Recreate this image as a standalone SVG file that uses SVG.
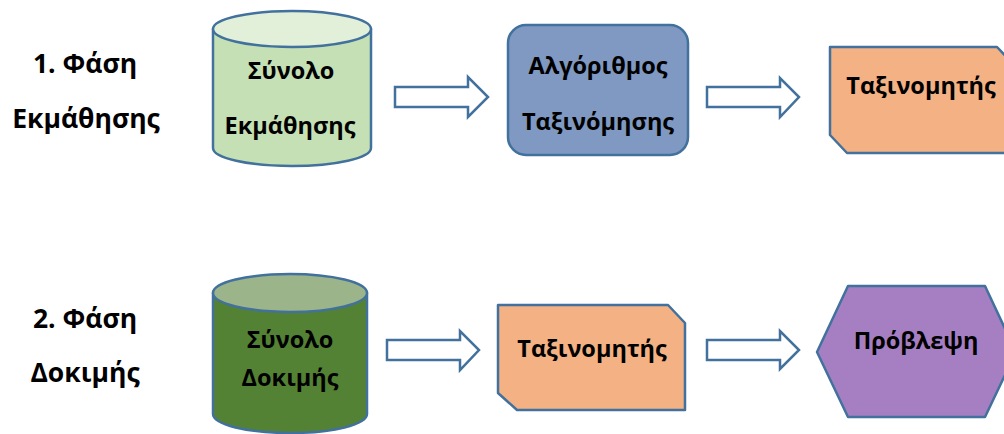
<svg xmlns="http://www.w3.org/2000/svg" width="1004" height="434" viewBox="0 0 1004 434">
<style>
.t{font-family:"Open Sans","Noto Sans","Liberation Sans",sans-serif;font-weight:bold;font-size:23.5px;fill:#000;text-anchor:middle}
.lbl{font-size:26.5px}
.s{stroke:#41719C;stroke-width:2.5;stroke-linejoin:round}
.arr{fill:#fff;stroke:#41719C;stroke-width:2.5;stroke-linejoin:miter}
</style>
<rect width="1004" height="434" fill="#fff"/>
<g id="labels">
<text class="t lbl" x="85" y="73">1. Φάση</text>
<text class="t lbl" x="86" y="128">Εκμάθησης</text>
<text class="t lbl" x="85" y="328">2. Φάση</text>
<text class="t lbl" x="85" y="382">Δοκιμής</text>
</g>
<g id="connectors">
<path class="arr" d="M395,87 H468 V77 L488,97 L468,117 V107 H395 Z"/>
<path class="arr" d="M707,87 H780 V78 L799,97 L780,117 V107 H707 Z"/>
<path class="arr" d="M387,340 H460 V331 L479,350 L460,370 V360 H387 Z"/>
<path class="arr" d="M707,340 H780 V331 L799,350 L780,369 V360 H707 Z"/>
</g>
<g id="train-set">
<path class="s" fill="#C5E0B4" d="M213,29 V148 A79,18 0 0 0 371,148 V29 Z"/>
<ellipse class="s" cx="292" cy="29" rx="79" ry="18" fill="#E2F0D9"/>
<text class="t" x="291" y="79">Σύνολο</text>
<text class="t" x="290" y="134">Εκμάθησης</text>
</g>
<g id="algorithm">
<rect class="s" x="508" y="25" width="180" height="130" rx="18" fill="#7F99C2"/>
<text class="t" x="598" y="74">Αλγόριθμος</text>
<text class="t" x="598" y="130">Ταξινόμησης</text>
</g>
<g id="classifier-1">
<path class="s" fill="#F4B183" d="M830,47 H997 L1014,65 V153 H847 L830,135 Z"/>
<text class="t" x="921" y="94">Ταξινομητής</text>
</g>
<g id="test-set">
<path class="s" fill="#548235" d="M213,293 V414 A77,19 0 0 0 367,414 V293 Z"/>
<ellipse class="s" cx="290" cy="293" rx="77" ry="19" fill="#9CB489"/>
<text class="t" x="290" y="348">Σύνολο</text>
<text class="t" x="290" y="386">Δοκιμής</text>
</g>
<g id="classifier-2">
<path class="s" fill="#F4B183" d="M498,305 H668 L685,323 V410 H517 L498,393 Z"/>
<text class="t" x="592" y="357">Ταξινομητής</text>
</g>
<g id="prediction">
<path class="s" fill="#A67FC3" d="M817,352 L848,286 H985 L1016,352 L985,417 H848 Z"/>
<text class="t" x="916" y="349">Πρόβλεψη</text>
</g>
</svg>
